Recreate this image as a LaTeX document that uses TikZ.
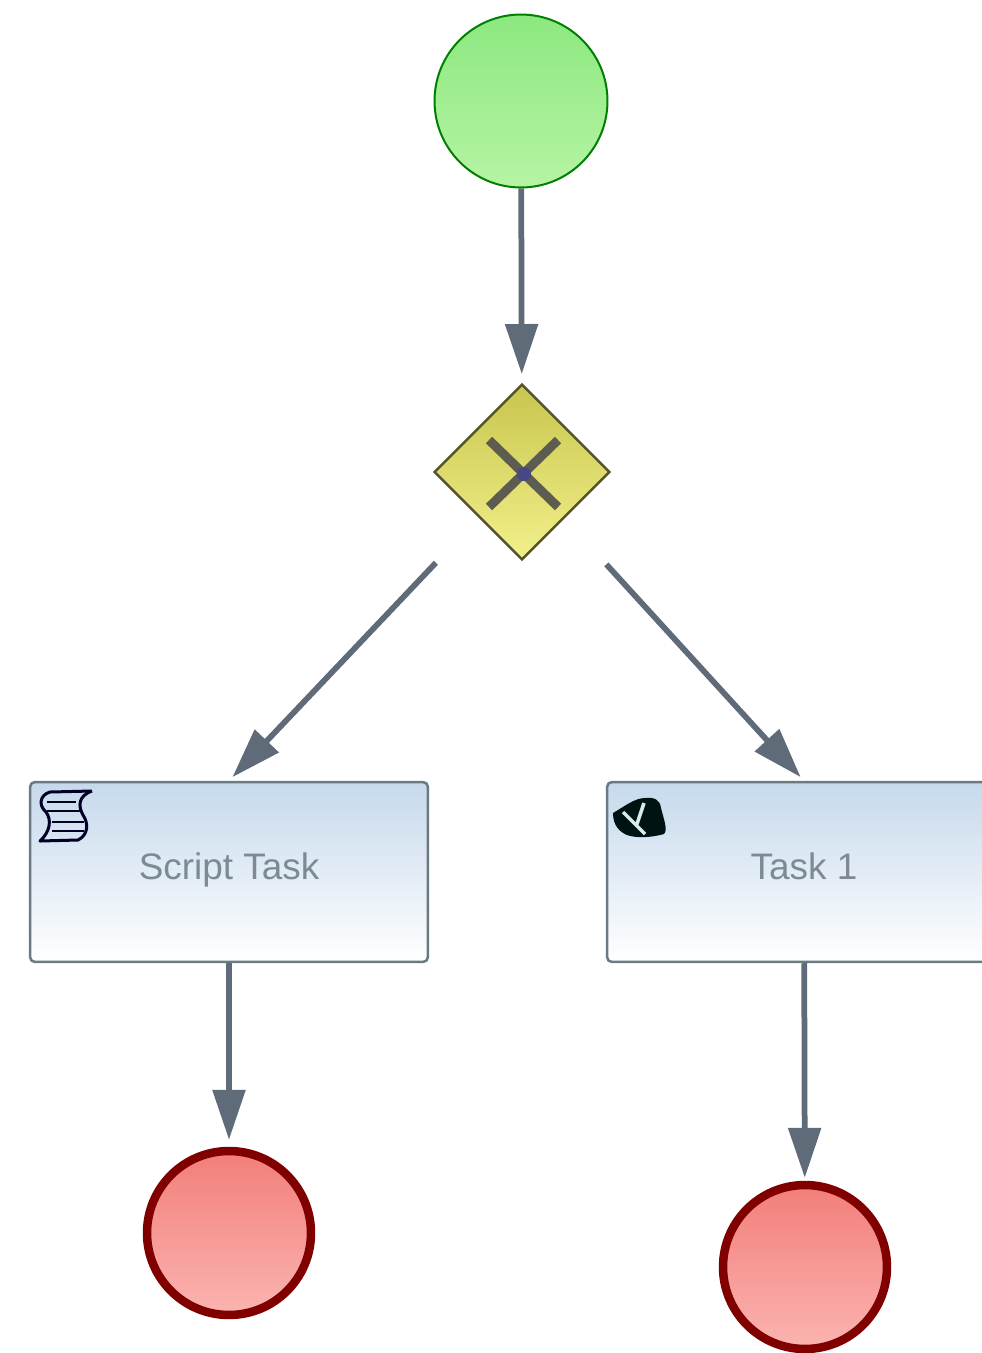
\documentclass[tikz,border=0pt]{standalone}
\usepackage{xcolor}
\usepackage{fontspec}
\setmainfont{Liberation Sans}
\usetikzlibrary{shapes.geometric}
\usetikzlibrary{arrows.meta}
\definecolor{flowgray}{HTML}{5F6B78}
\definecolor{taskline}{HTML}{6A7A82}
\definecolor{tasktext}{HTML}{7C8A96}
\definecolor{gatetop}{HTML}{C8C64E}
\definecolor{gatebottom}{HTML}{F2F08A}
\definecolor{tasktop}{HTML}{C6D9EC}
\definecolor{starttop}{HTML}{8CE880}
\definecolor{startbottom}{HTML}{B6F4A4}
\definecolor{endtop}{HTML}{F27E7A}
\definecolor{endbottom}{HTML}{FBB4B0}
\definecolor{marker}{HTML}{5C5C50}
\tikzset{
    flow/.style={draw=flowgray,line width=0.115cm,-{Triangle[length=1cm,width=.64cm]}},
    startev/.style={circle,draw=green!50!black,line width=0.04cm,minimum size=3.46cm,inner sep=0pt,top color=starttop,bottom color=startbottom},
    endev/.style={circle,draw=red!50!black,line width=0.17cm,minimum size=3.28cm,inner sep=0pt,top color=endtop,bottom color=endbottom},
    gateway/.style={diamond,draw=black!50!olive,line width=0.05cm,minimum size=3.52cm,inner sep=0pt,aspect=1,top color=gatetop,bottom color=gatebottom},
    task/.style={rectangle,draw=taskline,line width=0.05cm,rounded corners=0.1cm,inner sep=0pt,minimum height=3.6cm,top color=tasktop,bottom color=white,text=tasktext,text height=.42cm,text depth=.14cm,font=\fontsize{21}{25}\selectfont}
}
\begin{document}
\begin{tikzpicture}[x=0.02cm,y=-0.02cm]
    \path[use as bounding box,clip] (0,0) rectangle (982,1353);
    \fill[white] (0,0) rectangle (982,1353);
    \node[startev] (start) at (521,101) {};
    \node[gateway] (gate) at (522,472) {};
    \node[task,minimum width=7.96cm] (script) at (229,872) {Script Task};
    \node[task,minimum width=7.88cm] (task1) at (804,872) {Task 1};
    \node[endev] (endscript) at (229,1233) {};
    \node[endev] (endtask) at (805,1267) {};
    % gateway marker
    \draw[line width=0.18cm,color=marker] (489,440) -- (558,507) (489,507) -- (558,440);
    \fill[color=blue!30!gray!80!black] (524,474) circle (7);
    % connectors
    \draw[flow,shorten >=0.18cm] (start) -- (gate);
    \draw[flow,shorten <=1.24cm,shorten >=0.1cm] (gate) -- (script.north);
    \draw[flow,shorten <=1.24cm,shorten >=0.1cm] (gate) -- (task1.north);
    \draw[flow,shorten >=0.14cm] (script) -- (endscript);
    \draw[flow,shorten >=0.06cm] (task1) -- (endtask);
    % script icon
    \draw[line width=0.06cm,color=black!85!blue,line join=round] (92,791) -- (50,792)
        .. controls (40,795) and (38,805) .. (46,812)
        .. controls (52,820) and (50,832) .. (40,841)
        -- (78,840) .. controls (88,835) and (89,824) .. (83,815)
        .. controls (78,806) and (78,796) .. (92,791);
    \draw[line width=0.05cm,color=black!85!blue] (47,802) -- (76,802) (47,811) -- (80,811) (52,822) -- (84,822) (52,831) -- (84,831);
    % service icon
    \fill[color=black!85!teal] (613,813) .. controls (625,806) and (635,798) .. (645,798)
        .. controls (655,797) and (660,800) .. (661,808)
        .. controls (664,820) and (668,830) .. (664,834)
        .. controls (650,838) and (635,838) .. (627,835)
        .. controls (620,832) and (613,826) .. (613,813);
    \draw[line width=0.07cm,color=white!85!teal] (623,812) -- (645,834) (644,803) -- (637,824);
\end{tikzpicture}
\end{document}
